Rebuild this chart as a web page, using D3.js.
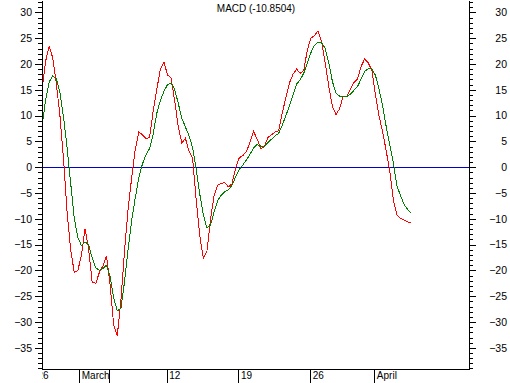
<!DOCTYPE html>
<meta charset="utf-8">
<script src="https://d3js.org/d3.v7.min.js"></script>
<style>
  body { margin: 0; background: #fff; }
  text { font-family: Arial, "Liberation Sans", sans-serif; }
</style>
<div id="chart"></div>
<script>

// MACD line (red) and signal line (green), 4 bars per trading day
var macd = [
  14.9, 20.5, 23.4, 21.2, 16.2, 10.0, 1.6, -8.7, -16.0, -20.4,
  -20.0, -17.1, -11.9, -15.8, -22.3, -22.5, -20.4, -19.1, -17.2, -22.8,
  -30.6, -32.6, -25.9, -16.4, -8.2, -2.1, 3.4, 6.85, 6.3, 5.6,
  5.7, 10.8, 15.0, 18.9, 20.4, 17.9, 17.3, 12.9, 7.9, 4.7,
  5.6, 3.1, 1.7, -6.3, -13.3, -17.6, -16.3, -10.1, -5.5, -3.5,
  -3.1, -3.0, -3.8, -3.2, -0.2, 1.8, 2.25, 3.0, 4.8, 6.9,
  5.5, 3.6, 4.0, 5.75, 6.3, 6.8, 7.05, 10.5, 13.4, 16.3,
  18.0, 19.0, 18.2, 18.7, 22.7, 25.0, 25.5, 26.4, 24.2, 20.2,
  15.6, 11.8, 10.2, 11.3, 13.8, 13.6, 15.1, 16.4, 17.1, 19.5,
  21.0, 20.2, 18.8, 14.0, 9.9, 6.9, 3.2, -0.8, -6.3, -9.3,
  -9.9, -10.25, -10.6, -10.85
];

var signal = [
  7.8, 13.0, 16.5, 17.7, 17.1, 14.5, 9.7, 3.8, -3.1, -9.9,
  -13.6, -15.2, -14.5, -15.0, -17.6, -19.5, -20.0, -19.6, -19.0, -21.2,
  -25.4, -27.8, -27.4, -22.3, -15.9, -10.4, -6.0, -2.0, 0.6, 2.4,
  3.6, 6.4, 10.4, 12.9, 14.7, 16.0, 16.3, 15.1, 12.4, 9.5,
  7.8, 6.1, 3.8, -0.4, -5.2, -9.2, -11.8, -11.2, -8.7, -6.5,
  -5.4, -4.7, -4.4, -3.5, -1.9, -0.45, 0.4, 1.4, 2.5, 3.7,
  4.4, 4.1, 4.0, 4.8, 5.4, 6.1, 6.55, 8.1, 10.0, 11.8,
  13.9, 16.1, 16.9, 18.2, 20.2, 22.2, 23.6, 24.2, 24.1, 23.0,
  20.2, 16.6, 14.4, 13.75, 13.7, 13.7, 14.1, 14.9, 15.6, 17.1,
  18.6, 19.1, 19.0, 17.8, 15.2, 11.9, 7.9, 4.3, 0.8, -3.6,
  -5.5, -7.2, -8.2, -8.9
];

// date ticks (bar index) and their labels
var xTickBars = [-2, 10.4, 18.8, 34.8, 54.8, 74.8, 92.7];
var xTickLabels = ["26", "March", "", "12", "19", "26", "April"];

var yMajor = [-35, -30, -25, -20, -15, -10, -5, 0, 5, 10, 15, 20, 25, 30];
var yMinor = d3.range(-39, 33);

var title = "MACD (-10.8504)";

var width = 510, height = 383;
var plotL = 42, plotR = 469, plotT = 0, plotB = 369;

var svg = d3.select("#chart")
  .append("svg")
    .attr("width", width)
    .attr("height", height);

var x = d3.scaleLinear()
  .domain([0, 119.1])
  .range([plotL, plotR]);

var y = d3.scaleLinear()
  .domain([-39.1, 32.4])
  .range([plotB, plotT]);

svg.append("clipPath").attr("id", "plot")
  .append("rect")
    .attr("x", plotL).attr("y", plotT)
    .attr("width", plotR - plotL).attr("height", plotB - plotT);

svg.append("clipPath").attr("id", "below")
  .append("rect")
    .attr("x", plotL).attr("y", plotB)
    .attr("width", width - plotL).attr("height", height - plotB);

// zero line
svg.append("line")
  .attr("x1", plotL).attr("x2", plotR)
  .attr("y1", Math.round(y(0)) + 0.5).attr("y2", Math.round(y(0)) + 0.5)
  .attr("stroke", "#0000cc")
  .attr("stroke-width", 1)
  .attr("shape-rendering", "crispEdges");

var line = d3.line()
  .x(function(d, i) { return x(i); })
  .y(function(d) { return y(d); });

var lines = svg.append("g").attr("clip-path", "url(#plot)");

lines.append("path")
  .datum(macd)
  .attr("fill", "none")
  .attr("stroke", "#ff0000")
  .attr("stroke-width", 1)
  .attr("shape-rendering", "crispEdges")
  .attr("d", line);

lines.append("path")
  .datum(signal)
  .attr("fill", "none")
  .attr("stroke", "#008000")
  .attr("stroke-width", 1)
  .attr("shape-rendering", "crispEdges")
  .attr("d", line);

// left axis
svg.append("g")
  .attr("transform", "translate(" + plotL + ",0)")
  .call(d3.axisLeft(y).tickValues(yMinor).tickSize(4).tickFormat("").tickSizeOuter(0));
svg.append("g")
  .attr("class", "ylab")
  .attr("transform", "translate(" + plotL + ",0)")
  .call(d3.axisLeft(y).tickValues(yMajor).tickSize(7).tickPadding(3).tickSizeOuter(0));

// right axis
svg.append("g")
  .attr("transform", "translate(" + plotR + ",0)")
  .call(d3.axisRight(y).tickValues(yMinor).tickSize(4).tickFormat("").tickSizeOuter(0));
var ra = svg.append("g")
  .attr("class", "ylab")
  .attr("transform", "translate(" + plotR + ",0)")
  .call(d3.axisRight(y).tickValues(yMajor).tickSize(7).tickSizeOuter(0));
ra.selectAll("text")
  .attr("x", 38)
  .attr("text-anchor", "end");

svg.selectAll(".ylab text")
  .style("font-size", "10.5px")
  .attr("fill", "#000");

// bottom axis
svg.append("line")
  .attr("x1", plotL).attr("x2", plotR + 1)
  .attr("y1", plotB + 0.5).attr("y2", plotB + 0.5)
  .attr("stroke", "#000");

var xa = svg.append("g")
  .attr("clip-path", "url(#below)")
  .append("g")
  .attr("transform", "translate(0," + plotB + ")")
  .call(d3.axisBottom(x)
    .tickValues(xTickBars)
    .tickFormat(function(d, i) { return xTickLabels[i]; })
    .tickSize(14)
    .tickSizeOuter(0));
xa.select(".domain").remove();
xa.selectAll("text")
  .attr("x", 2)
  .attr("y", 3)
  .attr("dy", "0.71em")
  .attr("text-anchor", "start")
  .style("font-size", "10px")
  .attr("fill", "#000");

svg.selectAll(".domain, .tick line")
  .attr("stroke", "#000")
  .attr("shape-rendering", "crispEdges");

// title
svg.append("text")
  .attr("x", 256)
  .attr("y", 12)
  .attr("text-anchor", "middle")
  .style("font-size", "10px")
  .text(title);

</script>
